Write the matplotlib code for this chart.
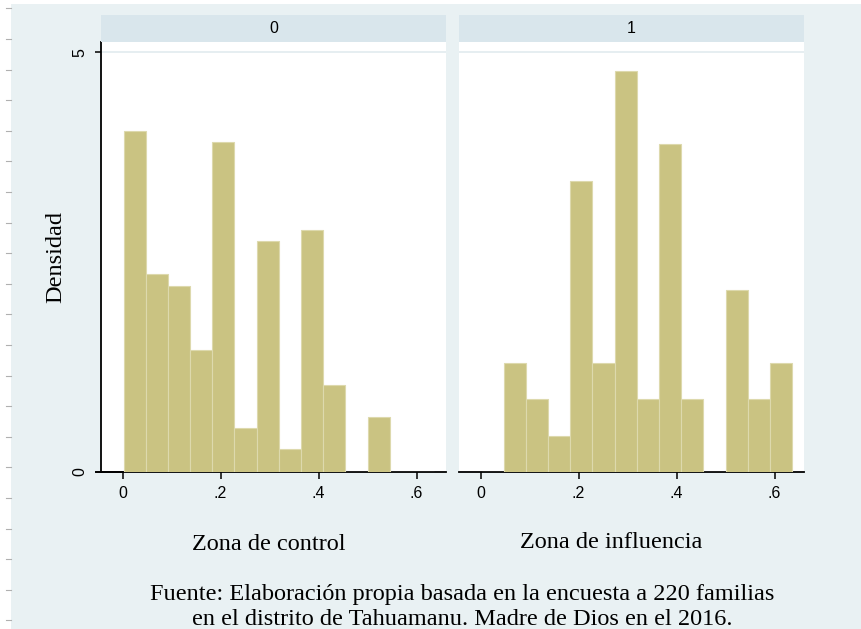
import numpy as np
import matplotlib
matplotlib.use("Agg")
import matplotlib.pyplot as plt
from matplotlib.patches import Rectangle
from matplotlib.lines import Line2D

# histogram bins (common to both panels)
bin_start = 0.002
bin_width = 0.04527
n_bins = 14

# densities
dens_control = [4.06, 2.36, 2.22, 1.45, 3.93, 0.52, 2.75, 0.27, 2.88, 1.04, 0, 0.65, 0, 0]
dens_influencia = [0, 1.30, 0.87, 0.43, 3.47, 1.30, 4.77, 0.87, 3.90, 0.87, 0, 2.17, 0.87, 1.30]

panel_labels = ["0", "1"]
x_titles = ["Zona de control", "Zona de influencia"]
xticks = [0, 0.2, 0.4, 0.6]
xtick_labels = ["0", ".2", ".4", ".6"]
yticks = [0, 5]
ytick_labels = ["0", "5"]
fuente = ("Fuente: Elaboración propia basada en la encuesta a 220 familias\n"
          "en el distrito de Tahuamanu. Madre de Dios en el 2016.")

W, H = 862, 629
bg = "#e9f1f3"
strip_col = "#d9e6ec"
bar_col = "#cac382"
serif = "Liberation Serif"
sans = "Liberation Sans"

fig = plt.figure(figsize=(W / 100, H / 100), dpi=100)
fig.patch.set_facecolor("white")

def fx(px):
    return px / W

def fy(py):
    return 1 - py / H

# graph region background
fig.patches.append(Rectangle((fx(11), 0), fx(W - 11), fy(4), transform=fig.transFigure,
                             facecolor=bg, edgecolor="none", zorder=-10))
# page ruler marks at left edge
for yy in np.arange(8.4, H, 30.6):
    fig.lines.append(Line2D([fx(6), fx(11)], [fy(yy), fy(yy)], transform=fig.transFigure,
                            color="#b0b0b0", lw=0.8))

edges = bin_start + bin_width * np.arange(n_bins)
xlim = (-0.044, 0.66)
ylim = (0, 5.12)
panels = [(101, dens_control), (459, dens_influencia)]

for i, (left_px, dens) in enumerate(panels):
    ax = fig.add_axes([fx(left_px), fy(472), fx(345), (472 - 42) / H])
    ax.set_facecolor("white")
    ax.bar(edges, dens, width=bin_width, align="edge", color=bar_col,
           edgecolor="#ddd9ad", linewidth=0.8, zorder=3)
    ax.set_xlim(*xlim)
    ax.set_ylim(*ylim)
    ax.axhline(5, color="#e2ebef", lw=1.2, zorder=1)
    for s in ["top", "right"]:
        ax.spines[s].set_visible(False)
    ax.spines["bottom"].set_linewidth(1.3)
    ax.set_xticks(xticks)
    ax.set_xticklabels(xtick_labels, fontfamily=sans, fontsize=11.5)
    ax.tick_params(axis="x", length=5, width=1.1, pad=5)
    if i == 0:
        ax.spines["left"].set_linewidth(1.3)
        ax.set_yticks(yticks)
        ax.set_yticklabels(ytick_labels, fontfamily=sans, fontsize=11.5,
                           rotation=90, va="center")
        ax.tick_params(axis="y", length=4, width=1.1, pad=6)
        ax.set_ylabel("Densidad", fontfamily=serif, fontsize=17.5, labelpad=4)
        # stata lets the x axis run a bit past the y axis
        ax.plot([-0.055, 0], [0, 0], color="black", lw=1.3, clip_on=False)
    else:
        ax.spines["left"].set_visible(False)
        ax.set_yticks([])

    # strip on top
    sax = fig.add_axes([fx(left_px), fy(41.7), fx(345), (41.7 - 15) / H])
    sax.set_facecolor(strip_col)
    sax.set_xticks([])
    sax.set_yticks([])
    for s in sax.spines.values():
        s.set_visible(False)
    sax.text(0.5, 0.5, panel_labels[i], ha="center", va="center",
             fontfamily=sans, fontsize=11.5, transform=sax.transAxes)

fig.text(fx(269), fy(544), x_titles[0], ha="center", va="center",
         fontfamily=serif, fontsize=17.5)
fig.text(fx(611), fy(543), x_titles[1], ha="center", va="center",
         fontfamily=serif, fontsize=17.5)
fig.text(fx(462), fy(607), fuente, ha="center", va="center",
         fontfamily=serif, fontsize=17.5, linespacing=1.2)

fig.savefig("out.png", dpi=100)
